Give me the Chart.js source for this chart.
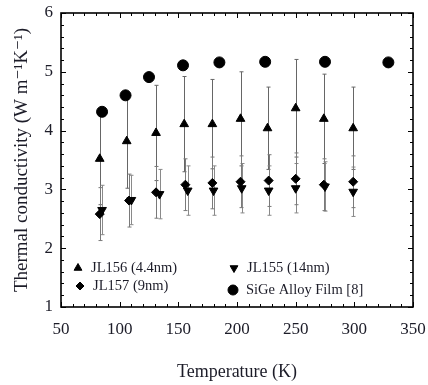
<!DOCTYPE html>
<html>
<head>
<meta charset="utf-8">
<script src="https://cdn.jsdelivr.net/npm/chart.js@4/dist/chart.umd.min.js"></script>
<style>
  html, body { margin: 0; padding: 0; background: #fff; }
  #wrap { width: 428px; height: 385px; }
</style>
</head>
<body>
<div id="wrap"><canvas id="chart" width="428" height="385"></canvas></div>
<script>
// JL156 (4.4nm) - upward triangles
const temps156 = [83, 106, 131, 155, 179, 203, 226, 250, 274, 299];
const k156 = [3.52, 3.82, 3.96, 4.11, 4.11, 4.20, 4.04, 4.38, 4.20, 4.04];
const err156 = [0.78, 0.80, 0.81, 0.81, 0.76, 0.80, 0.70, 0.83, 0.76, 0.70];

// JL157 (9nm) - diamonds
const temps157 = [83, 108, 131, 156, 179, 203, 227, 250, 274, 299];
const k157 = [2.58, 2.81, 2.95, 3.08, 3.11, 3.13, 3.15, 3.18, 3.08, 3.13];
const err157 = [0.45, 0.45, 0.44, 0.44, 0.44, 0.44, 0.44, 0.44, 0.44, 0.44];

// JL155 (14nm) - downward triangles
const temps155 = [85, 110, 134, 158, 180, 204, 227, 250, 275, 299];
const k155 = [2.65, 2.82, 2.92, 2.98, 2.98, 3.02, 2.98, 3.02, 3.05, 2.96];
const err155 = [0.42, 0.42, 0.42, 0.42, 0.42, 0.42, 0.42, 0.42, 0.42, 0.42];

// SiGe Alloy Film [8] - circles
const tempsSiGe = [85, 105, 125, 154, 185, 224, 275, 329];
const kSiGe = [4.32, 4.60, 4.91, 5.11, 5.16, 5.17, 5.17, 5.16];

const xTicks = [50, 100, 150, 200, 250, 300, 350];
const yTicks = [1, 2, 3, 4, 5, 6];

const serif = '"Liberation Serif", "DejaVu Serif", serif';
const textColor = '#1c1c28';

const pts = (xs, ys, es) => xs.map((x, i) => ({ x: x, y: ys[i], e: es ? es[i] : 0 }));

// error bars drawn behind the markers
const errorBars = {
    id: 'errorBars',
    beforeDatasetsDraw(chart) {
        const ctx = chart.ctx;
        const xs = chart.scales.x, ys = chart.scales.y;
        ctx.save();
        chart.data.datasets.forEach(ds => {
            if (!ds.barColor) return;
            ctx.strokeStyle = ds.barColor;
            ctx.lineWidth = 1;
            ds.data.forEach(p => {
                if (!p.e) return;
                const px = Math.round(xs.getPixelForValue(p.x)) + 0.5;
                const top = ys.getPixelForValue(p.y + p.e);
                const bot = ys.getPixelForValue(p.y - p.e);
                ctx.beginPath();
                ctx.moveTo(px, top); ctx.lineTo(px, bot);
                ctx.moveTo(px - 2, top); ctx.lineTo(px + 2, top);
                ctx.moveTo(px - 2, bot); ctx.lineTo(px + 2, bot);
                ctx.stroke();
            });
        });
        ctx.restore();
    }
};

// frame with inward ticks on all four sides
const frame = {
    id: 'frame',
    afterDraw(chart) {
        const ctx = chart.ctx;
        const a = chart.chartArea;
        const xs = chart.scales.x, ys = chart.scales.y;
        ctx.save();
        ctx.strokeStyle = '#000';
        ctx.lineWidth = 1;
        ctx.beginPath();
        for (let v = 50; v <= 350; v += 10) {
            const px = Math.round(xs.getPixelForValue(v)) + 0.5;
            const len = v % 50 === 0 ? 5 : 3;
            ctx.moveTo(px, a.bottom); ctx.lineTo(px, a.bottom - len);
            ctx.moveTo(px, a.top); ctx.lineTo(px, a.top + len);
        }
        for (let i = 0; i <= 25; i++) {
            const v = 1 + i * 0.2;
            const py = Math.round(ys.getPixelForValue(v)) + 0.5;
            const len = i % 5 === 0 ? 5 : 3;
            ctx.moveTo(a.left, py); ctx.lineTo(a.left + len, py);
            ctx.moveTo(a.right, py); ctx.lineTo(a.right - len, py);
        }
        ctx.stroke();
        ctx.lineWidth = 1.6;
        ctx.strokeRect(a.left, a.top, a.right - a.left, a.bottom - a.top);
        ctx.restore();
    }
};

// legend inside the plot area, two columns
const innerLegend = {
    id: 'innerLegend',
    afterDraw(chart) {
        const ctx = chart.ctx;
        const a = chart.chartArea;
        const slots = [[0, 17, 255], [1, 173, 255], [2, 19, 273], [3, 172, 277]];
        ctx.save();
        ctx.font = '14.5px ' + serif;
        ctx.textBaseline = 'middle';
        slots.forEach(([i, dx, y]) => {
            const ds = chart.data.datasets[i];
            const x = a.left + dx;
            ctx.fillStyle = '#000';
            ctx.strokeStyle = '#000';
            Chart.helpers.drawPoint(ctx, {
                pointStyle: ds.pointStyle, radius: ds.pointRadius - 0.5,
                rotation: ds.rotation || 0, borderWidth: 1
            }, x, a.top + y);
            ctx.fillStyle = textColor;
            ctx.fillText(ds.label, x + 13, a.top + y);
        });
        ctx.restore();
    }
};

const mk = (label, data, style, radius, rot, barColor) => ({
    label: label, data: data, pointStyle: style, pointRadius: radius,
    rotation: rot, barColor: barColor,
    backgroundColor: '#000', borderColor: '#000', borderWidth: 1, showLine: false
});

new Chart(document.getElementById('chart'), {
    type: 'scatter',
    data: {
        datasets: [
            mk('JL156 (4.4nm)', pts(temps156, k156, err156), 'triangle', 5, 0, '#666'),
            mk('JL155 (14nm)', pts(temps155, k155, err155), 'triangle', 5, 180, '#8a8a8a'),
            mk('JL157 (9nm)', pts(temps157, k157, err157), 'rectRot', 4.5, 0, '#7a7a7a'),
            mk('SiGe Alloy Film [8]', pts(tempsSiGe, kSiGe), 'circle', 5.5, 0, null)
        ]
    },
    options: {
        responsive: false,
        animation: false,
        layout: { padding: { top: 13, right: 15, left: 0, bottom: 0 } },
        plugins: {
            legend: { display: false },
            tooltip: { enabled: false }
        },
        scales: {
            x: {
                type: 'linear', min: 50, max: 350,
                afterBuildTicks: s => { s.ticks = xTicks.map(v => ({ value: v })); },
                afterFit: s => { s.height = 78; s.paddingLeft = 0; s.paddingRight = 0; },
                grid: { display: false, drawTicks: false },
                border: { display: false },
                ticks: { padding: 12, color: textColor, font: { family: serif, size: 17 } },
                title: {
                    display: true, text: 'Temperature (K)', color: textColor,
                    font: { family: serif, size: 18 }, padding: { top: 2, bottom: 2 }
                }
            },
            y: {
                type: 'linear', min: 1, max: 6,
                afterBuildTicks: s => { s.ticks = yTicks.map(v => ({ value: v })); },
                afterFit: s => { s.width = 61; s.paddingTop = 0; s.paddingBottom = 0; },
                grid: { display: false, drawTicks: false },
                border: { display: false },
                ticks: { padding: 8, color: textColor, font: { family: serif, size: 17 } },
                title: {
                    display: true, text: 'Thermal conductivity (W m\u207B\u00B9K\u207B\u00B9)', color: textColor,
                    font: { family: serif, size: 19 }, padding: { top: 11, bottom: 0 }
                }
            }
        }
    },
    plugins: [errorBars, frame, innerLegend]
});
</script>
</body>
</html>
